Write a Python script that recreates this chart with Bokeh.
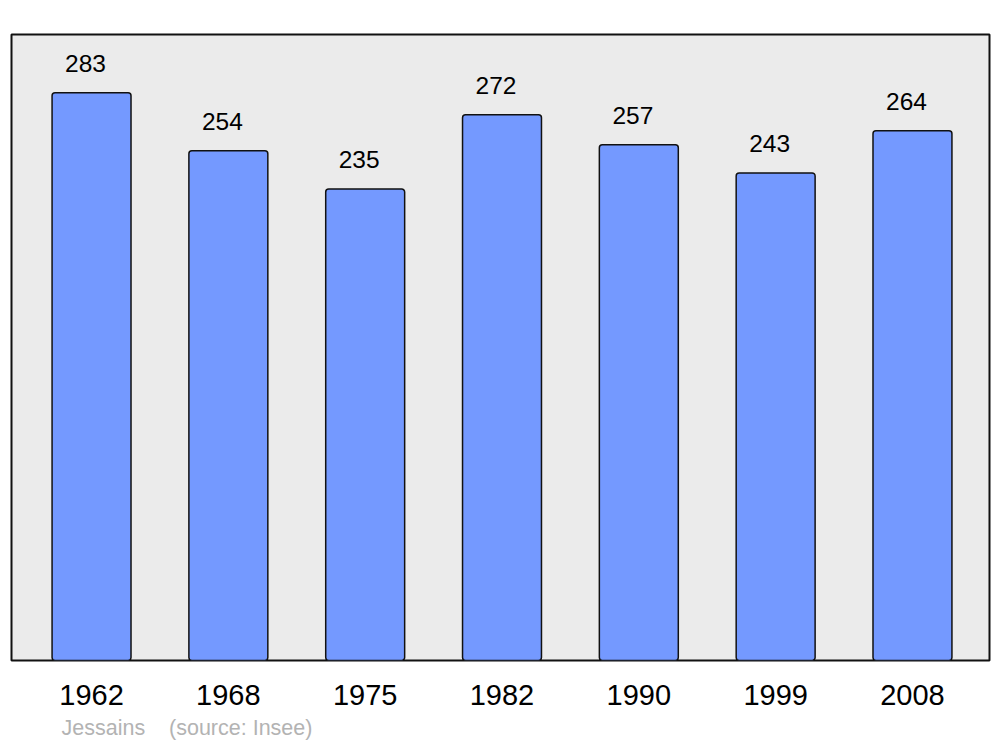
from bokeh.plotting import figure
from bokeh.models import ColumnDataSource, FixedTicker, Title, Range1d
from bokeh.core.properties import value
from bokeh.embed import file_html
from bokeh.resources import INLINE

years = ["1962", "1968", "1975", "1982", "1990", "1999", "2008"]
population = [283, 254, 235, 272, 257, 243, 264]
positions = list(range(len(years)))

src = ColumnDataSource(dict(x=positions, top=population, label=[str(v) for v in population]))

FONT = "Liberation Sans"

p = figure(width=1000, height=747, output_backend="svg", toolbar_location=None,
           x_range=Range1d(-0.585, 6.563), y_range=Range1d(0, 312),
           y_axis_location=None, min_border_left=11, min_border_right=11,
           min_border_top=34, min_border_bottom=87)
p.background_fill_color = "#ebebeb"
p.border_fill_color = "white"
p.outline_line_color = "#111111"
p.outline_line_width = 2
p.xgrid.visible = False
p.ygrid.visible = False

p.vbar(x="x", top="top", bottom=0, width=0.577, source=src,
       fill_color="#7499ff", line_color="#111111", line_width=1.5, border_radius=3)

p.text(x="x", y="top", text="label", source=src, x_offset=-6, y_offset=-21,
       text_align="center", text_baseline="bottom", text_font=value(FONT),
       text_font_size="24.5px", text_color="black")

ax = p.xaxis[0]
ax.ticker = FixedTicker(ticks=positions)
ax.major_label_overrides = {i: y for i, y in zip(positions, years)}
ax.axis_line_color = None
ax.major_tick_line_color = None
ax.minor_tick_line_color = None
ax.major_label_text_font = FONT
ax.major_label_text_font_size = "29px"
ax.major_label_text_color = "black"
ax.major_label_standoff = 18

t = Title(text="Jessains\u00a0\u00a0\u00a0\u00a0(source: Insee)", align="left",
          text_font=FONT, text_font_size="21.5px", text_color="#b3b3b3",
          text_font_style="normal", offset=50, standoff=12)
p.add_layout(t, "below")

open("out.html", "w").write(file_html(p, INLINE))
